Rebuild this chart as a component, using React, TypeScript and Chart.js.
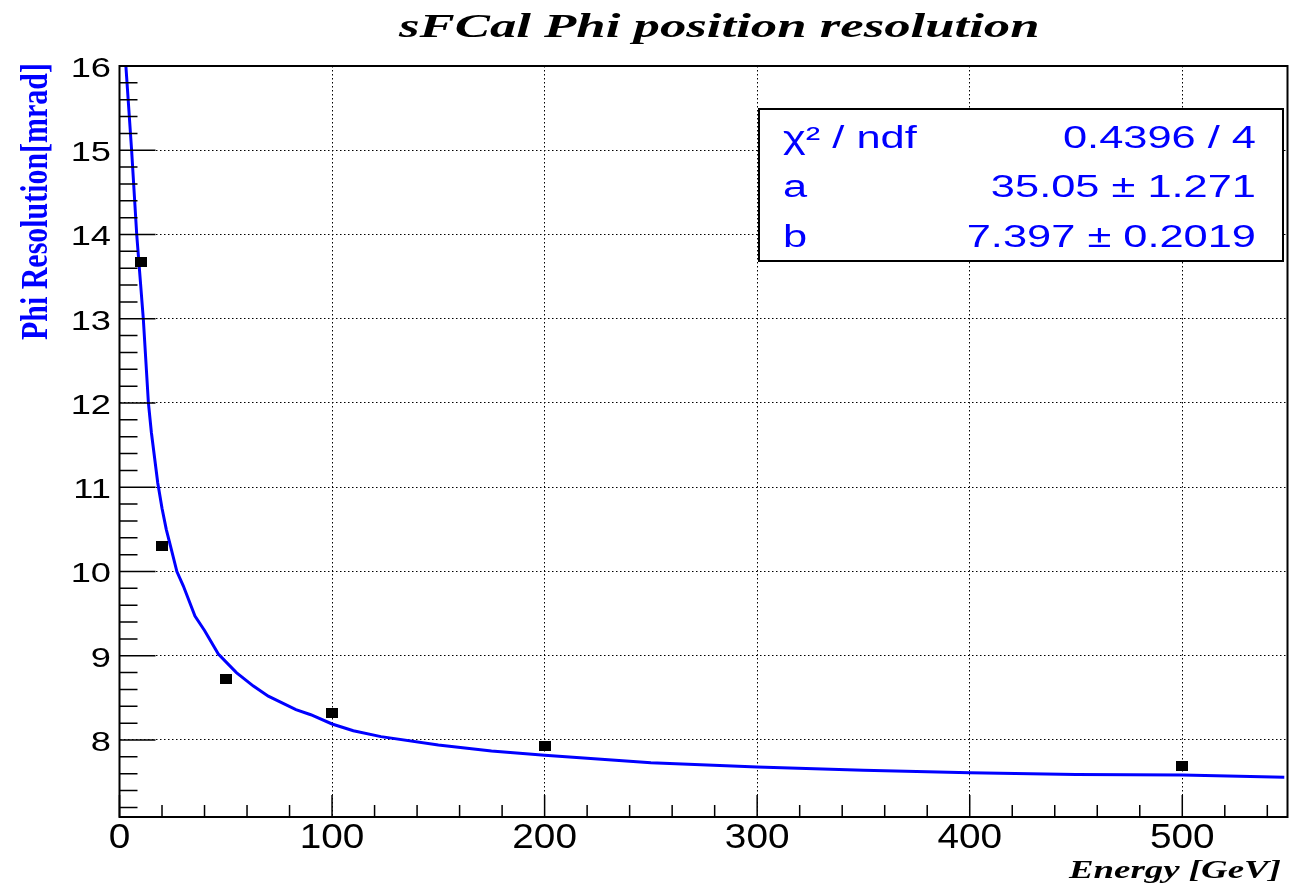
import React, { useEffect, useRef } from 'react';
import { Chart, registerables } from 'chart.js';

Chart.register(...registerables);

// ---- data ----
const measuredEnergy = [10, 20, 50, 100, 200, 500];
const measuredResolution = [13.67, 10.3, 8.72, 8.32, 7.93, 7.695];

const fitEnergy = [3.0, 5.7, 8.1, 11.2, 13.6, 15, 18, 20, 22, 24, 27, 30, 35.5, 40, 46.5, 55, 63, 70, 83, 90, 100, 110, 123, 150, 175, 200, 250, 300, 350, 400, 450, 500, 548];
const fitResolution = [16.0, 15.0, 14.0, 13.0, 12.0, 11.65, 11.05, 10.75, 10.5, 10.3, 10.0, 9.83, 9.47, 9.3, 9.02, 8.8, 8.64, 8.52, 8.36, 8.3, 8.19, 8.11, 8.04, 7.94, 7.87, 7.82, 7.73, 7.68, 7.64, 7.61, 7.59, 7.585, 7.557];

const xTickValues = [0, 100, 200, 300, 400, 500];
const xTickLabels = ['0', '100', '200', '300', '400', '500'];
const yTickValues = [8, 9, 10, 11, 12, 13, 14, 15, 16];
const yTickLabels = ['8', '9', '10', '11', '12', '13', '14', '15', '16'];

const statsLabels = ['\u03C7\u00B2 / ndf', 'a', 'b'];
const statsValues = ['0.4396 / 4', '35.05 \u00B1 1.271', '7.397 \u00B1 0.2019'];

const titleText = 'sFCal Phi position resolution';
const xTitleText = 'Energy [GeV]';
const yTitleText = 'Phi Resolution[mrad]';

const X_MIN = 0;
const X_MAX = 549.5;
const Y_MIN = 7.086;
const Y_MAX = 16;

function inkWidth(ctx: CanvasRenderingContext2D, text: string, font: string) {
  ctx.save();
  ctx.font = font;
  const m = ctx.measureText(text);
  ctx.restore();
  return (m.actualBoundingBoxLeft || 0) + (m.actualBoundingBoxRight || m.width);
}

function drawText(
  ctx: CanvasRenderingContext2D,
  text: string,
  font: string,
  color: string,
  x: number,
  y: number,
  align: CanvasTextAlign,
  sx: number
) {
  ctx.save();
  ctx.font = font;
  ctx.fillStyle = color;
  ctx.textAlign = align;
  ctx.textBaseline = 'alphabetic';
  ctx.translate(x, y);
  ctx.scale(sx, 1);
  ctx.fillText(text, 0, 0);
  ctx.restore();
}

const rootStylePlugin = {
  id: 'rootStyle',
  afterDraw(chart: any) {
    const ctx: CanvasRenderingContext2D = chart.ctx;
    const area = chart.chartArea;
    const xs = chart.scales.x;
    const ys = chart.scales.y;

    // stats box
    const bx0 = 759, by0 = 109, bx1 = 1283, by1 = 261;
    ctx.save();
    ctx.fillStyle = '#fff';
    ctx.fillRect(bx0, by0, bx1 - bx0, by1 - by0);
    ctx.strokeStyle = '#000';
    ctx.lineWidth = 2;
    ctx.strokeRect(bx0, by0, bx1 - bx0, by1 - by0);
    ctx.restore();
    const statsFont = '31px "Liberation Sans", Arial, sans-serif';
    const statsSx = 262 / inkWidth(ctx, statsValues[1], statsFont);
    const statsBaselines = [148, 196.5, 246.5];
    for (let i = 0; i < statsLabels.length; i++) {
      drawText(ctx, statsLabels[i], statsFont, '#0000ff', 783, statsBaselines[i], 'left', statsSx);
      drawText(ctx, statsValues[i], statsFont, '#0000ff', 1256, statsBaselines[i], 'right', statsSx);
    }

    // frame
    ctx.save();
    ctx.strokeStyle = '#000';
    ctx.lineWidth = 2;
    ctx.strokeRect(area.left, area.top, area.right - area.left, area.bottom - area.top);

    // x ticks (inside, bottom)
    ctx.lineWidth = 1.5;
    ctx.beginPath();
    for (let i = 0; i * 20 <= X_MAX; i++) {
      const v = i * 20;
      const px = xs.getPixelForValue(v);
      const len = v % 100 === 0 ? 22 : 12;
      ctx.moveTo(px, area.bottom);
      ctx.lineTo(px, area.bottom - len);
    }
    // y ticks (inside, left)
    for (let i = 36; i <= 80; i++) {
      const v = i / 5;
      const py = ys.getPixelForValue(v);
      const len = i % 5 === 0 ? 36 : 18;
      ctx.moveTo(area.left, py);
      ctx.lineTo(area.left + len, py);
    }
    ctx.stroke();
    ctx.restore();

    // x tick labels
    const xFont = '35px "Liberation Sans", Arial, sans-serif';
    const xSx = 63 / inkWidth(ctx, '500', xFont);
    xTickValues.forEach((v, i) => {
      drawText(ctx, xTickLabels[i], xFont, '#000', xs.getPixelForValue(v), 848, 'center', xSx);
    });

    // y tick labels
    const yFont = '28px "Liberation Sans", Arial, sans-serif';
    const ySx = 37 / inkWidth(ctx, '16', yFont);
    yTickValues.forEach((v, i) => {
      drawText(ctx, yTickLabels[i], yFont, '#000', 111, ys.getPixelForValue(v) + 11, 'right', ySx);
    });

    // title
    const tFont = 'italic bold 33px "Liberation Serif", "Times New Roman", serif';
    const tSx = 640 / inkWidth(ctx, titleText, tFont);
    drawText(ctx, titleText, tFont, '#000', 399, 37, 'left', tSx);

    // x axis title
    const xtFont = 'italic bold 25px "Liberation Serif", "Times New Roman", serif';
    const xtSx = 213 / inkWidth(ctx, xTitleText, xtFont);
    drawText(ctx, xTitleText, xtFont, '#000', 1281, 878, 'right', xtSx);

    // y axis title (rotated)
    const ytFont = 'bold 29.6px "Liberation Serif", "Times New Roman", serif';
    const ytLen = 275 / inkWidth(ctx, yTitleText, ytFont);
    ctx.save();
    ctx.font = ytFont;
    ctx.fillStyle = '#0000ff';
    ctx.textAlign = 'left';
    ctx.textBaseline = 'alphabetic';
    ctx.translate(47, 340);
    ctx.rotate(-Math.PI / 2);
    ctx.scale(ytLen, 1.25);
    ctx.fillText(yTitleText, 0, 0);
    ctx.restore();
  },
};

export default function App() {
  const canvasRef = useRef<HTMLCanvasElement | null>(null);

  useEffect(() => {
    const canvas = canvasRef.current;
    if (!canvas) return;

    const marker = document.createElement('canvas');
    marker.width = 12;
    marker.height = 10;
    const mctx = marker.getContext('2d');
    if (mctx) {
      mctx.fillStyle = '#000';
      mctx.fillRect(0, 0, 12, 10);
    }

    const measured = measuredEnergy.map((e, i) => ({ x: e, y: measuredResolution[i] }));
    const fit = fitEnergy.map((e, i) => ({ x: e, y: fitResolution[i] }));

    const chart = new Chart(canvas, {
      type: 'scatter',
      data: {
        datasets: [
          {
            label: 'data',
            data: measured,
            showLine: false,
            pointStyle: marker as any,
            pointRadius: 6,
            backgroundColor: '#000',
            borderColor: '#000',
          },
          {
            label: 'fit',
            data: fit,
            showLine: true,
            borderColor: '#0000ff',
            borderWidth: 3,
            pointRadius: 0,
            tension: 0,
            fill: false,
          },
        ],
      },
      options: {
        responsive: false,
        animation: false,
        devicePixelRatio: 1,
        layout: { padding: { left: 0, top: 66, right: 21.5, bottom: 0 } },
        plugins: {
          legend: { display: false },
          tooltip: { enabled: false },
          title: { display: false },
        },
        scales: {
          x: {
            type: 'linear',
            min: X_MIN,
            max: X_MAX,
            afterBuildTicks: (s: any) => {
              s.ticks = [100, 200, 300, 400, 500].map((v) => ({ value: v }));
            },
            afterFit: (s: any) => {
              s.height = 70;
            },
            ticks: { display: false },
            grid: { color: '#000', lineWidth: 1, drawTicks: false },
            border: { display: false, dash: [1.5, 2.5] },
          },
          y: {
            type: 'linear',
            min: Y_MIN,
            max: Y_MAX,
            afterBuildTicks: (s: any) => {
              s.ticks = [8, 9, 10, 11, 12, 13, 14, 15].map((v) => ({ value: v }));
            },
            afterFit: (s: any) => {
              s.width = 119.5;
            },
            ticks: { display: false },
            grid: { color: '#000', lineWidth: 1, drawTicks: false },
            border: { display: false, dash: [1.5, 2.5] },
          },
        },
      } as any,
      plugins: [rootStylePlugin],
    });

    return () => {
      chart.destroy();
    };
  }, []);

  return (
    <div style={{ position: 'fixed', left: 0, top: 0, width: 1309, height: 887, background: '#fff' }}>
      <canvas ref={canvasRef} width={1309} height={887} style={{ display: 'block' }} />
    </div>
  );
}
